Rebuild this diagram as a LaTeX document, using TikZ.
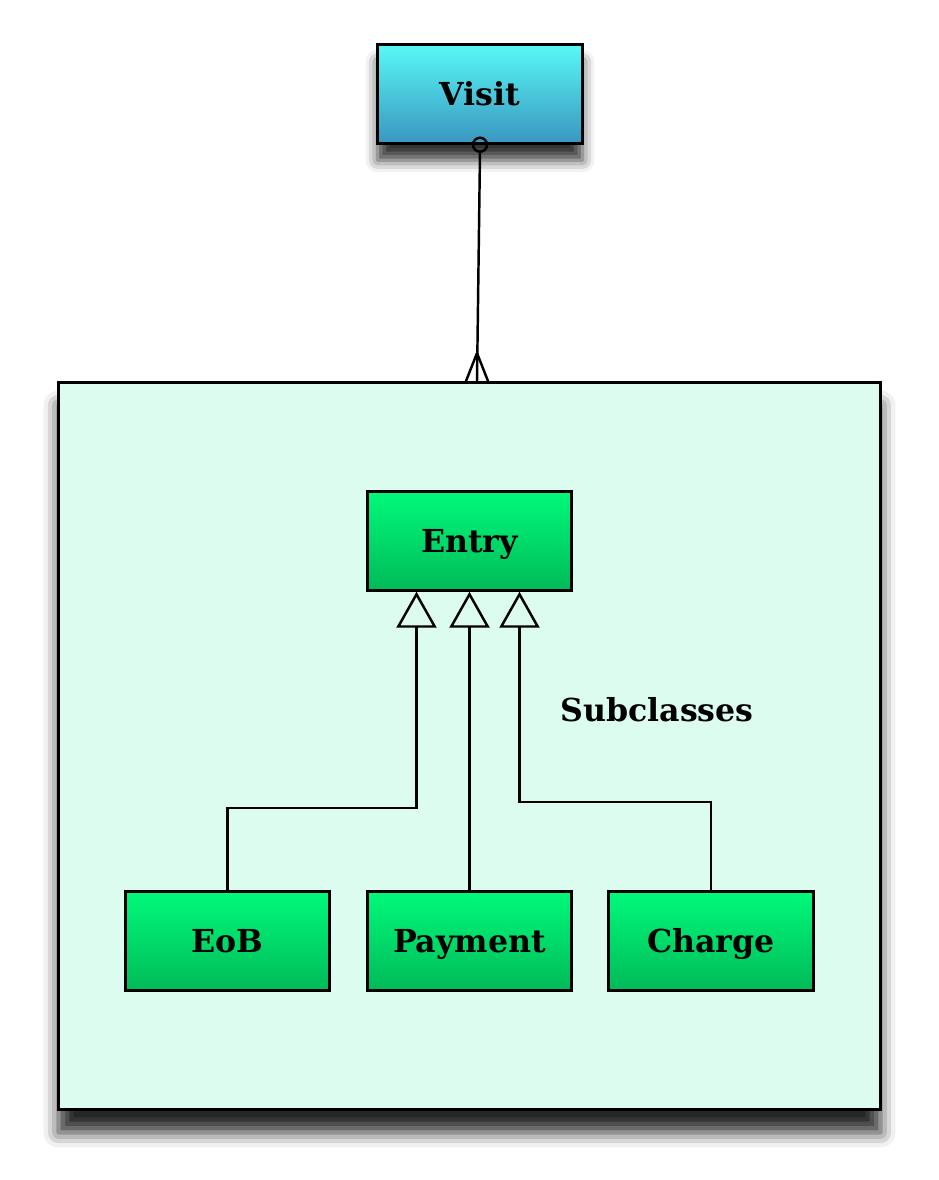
\documentclass[tikz,border=0pt]{standalone}
\usepackage{fontspec}
\setmainfont{DejaVu Serif}
\usepackage{xcolor}
\usetikzlibrary{calc}
\usetikzlibrary{arrows.meta}
\usetikzlibrary{shadows.blur}

\definecolor{visittop}{RGB}{88,248,246}
\definecolor{visitbot}{RGB}{58,150,192}
\definecolor{clstop}{RGB}{0,250,122}
\definecolor{clsbot}{RGB}{0,186,88}
\definecolor{groupfill}{RGB}{219,252,239}

\begin{document}
\begin{tikzpicture}[x=0.02cm,y=-0.02cm,>=latex,
		cls/.style={draw=black,line width=1.7pt,minimum width=4.1cm,minimum height=1.97cm,
			top color=clstop,bottom color=clsbot,text=black,
			text height=13pt,text depth=0pt,
			font=\fontsize{18}{21}\selectfont\bfseries},
		rel/.style={draw=black,line width=1.4pt},
		inh/.style={rel,-{Triangle[open,length=0.72cm,width=0.8cm,line width=1.4pt]}}]
		\useasboundingbox (0,0) rectangle (938,1180);

		% Visit
		\node at (480,94) (visit) [cls,top color=visittop,bottom color=visitbot,
			blur shadow={shadow xshift=0pt,shadow yshift=-0.34cm,shadow blur radius=0.24cm,shadow opacity=80}] {Visit};

		% Subclasses group
		\node at (469.5,746) (group) [draw=black,line width=1.7pt,fill=groupfill,
			minimum width=16.44cm,minimum height=14.54cm,
			blur shadow={shadow xshift=0pt,shadow yshift=-0.46cm,shadow blur radius=0.3cm,shadow opacity=85}] {};
		\node at (657,710) (label) [font=\fontsize{18}{21}\selectfont\bfseries,text=black] {Subclasses};

		% Entry and its subclasses
		\node at (469.5,541) (entry) [cls] {Entry};
		\node at (227.5,941) (eob) [cls] {EoB};
		\node at (469.5,941) (payment) [cls] {Payment};
		\node at (711,941) (charge) [cls] {Charge};

		% Visit to Entry group
		\coordinate (foot) at ($(group.north)+(7.5,0)$);
		\coordinate (ftop) at ($(foot)+(0,-28)$);
		\draw[rel] (visit.south) circle [radius=0.14cm];
		\draw[rel] ($(visit.south)+(0,7)$) -- (foot);
		\draw[rel] (ftop) -- ($(foot)+(-11,0)$) (ftop) -- ($(foot)+(11,0)$);

		% inheritance
		\draw[inh] (eob.north) |- ($(entry.south)+(-53,216)$) -- ($(entry.south)+(-53,0)$);
		\draw[inh] (payment.north) -- (entry.south);
		\draw[inh] (charge.north) |- ($(entry.south)+(50,210)$) -- ($(entry.south)+(50,0)$);

	\end{tikzpicture}
\end{document}
